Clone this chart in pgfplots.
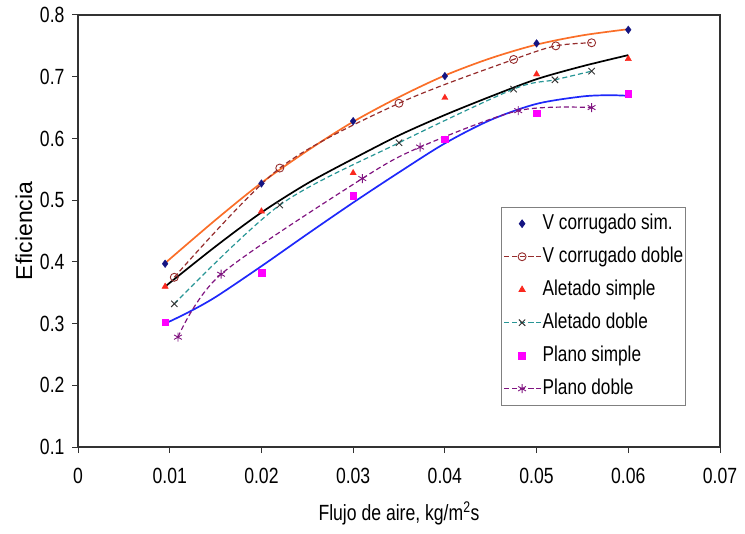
\documentclass[border=0pt]{standalone}
\usepackage{fontspec}
\setmainfont{Liberation Sans}[FakeStretch=0.8]
\newfontfamily\ylabfont{Liberation Sans}
\usepackage{pgfplots}
\pgfplotsset{compat=1.18}

\definecolor{vsim}{RGB}{20,20,130}
\definecolor{vdob}{RGB}{150,45,45}
\definecolor{asim}{RGB}{250,40,30}
\definecolor{adobl}{RGB}{40,150,150}
\definecolor{adobm}{RGB}{50,50,50}
\definecolor{psim}{RGB}{255,0,255}
\definecolor{pdob}{RGB}{128,20,128}
\definecolor{torange}{RGB}{250,110,40}
\definecolor{tblue}{RGB}{30,40,250}
\definecolor{axgray}{RGB}{50,50,50}

\pgfplotsset{
  markleg/.style={legend image code/.code={\draw[##1] plot coordinates {(18pt,0pt)};}},
  lineleg/.style={legend image code/.code={\draw[mark repeat=2,mark phase=2,##1] plot coordinates {(0pt,0pt) (18pt,0pt) (36pt,0pt)};}},
  dashline/.style={line width=1.2pt, dash pattern=on 5pt off 3pt, smooth, tension=0.5},
}

\begin{document}
\begin{tikzpicture}
\begin{axis}[
  name=ax, at={(0,0)}, anchor=south west,
  scale only axis, width=642pt, height=432pt,
  xmin=0, xmax=0.07, ymin=0.1, ymax=0.8,
  scaled x ticks=false, scaled y ticks=false,
  xtick={0,0.01,0.02,0.03,0.04,0.05,0.06,0.07},
  xticklabels={0,0.01,0.02,0.03,0.04,0.05,0.06,0.07},
  ytick={0.1,0.2,0.3,0.4,0.5,0.6,0.7,0.8},
  yticklabels={0.1,0.2,0.3,0.4,0.5,0.6,0.7,0.8},
  /pgf/number format/assume math mode=true,
  tick pos=left, tick align=outside, major tick length=6pt,
  tick style={line width=1pt, color=axgray},
  axis line style={line width=1.3pt, color=axgray},
  font=\fontsize{22}{26}\selectfont,
  xticklabel style={anchor=base, yshift=-30pt},
  yticklabel style={anchor=east, xshift=-4pt},
  xlabel={Flujo de aire, kg/m\textsuperscript{2}s},
  ylabel={Eficiencia},
  xlabel style={at={(rel axis cs:0.5,0)}, anchor=base, yshift=-73pt},
  ylabel style={at={(rel axis cs:0,0.5)}, anchor=center, yshift=54pt,
    font=\ylabfont\fontsize{23}{26}\selectfont},
  legend cell align=left,
  legend style={at={(0.659,0.556)}, anchor=north west, draw=gray, line width=0.8pt,
    fill=white, font=\fontsize{21.5}{25}\selectfont, inner xsep=2pt, inner ysep=6pt,
    row sep=12pt, column sep=2pt,
    nodes={inner sep=0pt, text height=16pt, text depth=5pt}},
  clip=false,
]
% fitted trend curves (not in the legend)
\addplot[color=torange, line width=1.7pt, smooth, forget plot] coordinates {
  (0.0095,0.398) (0.015,0.468) (0.02,0.528) (0.025,0.580) (0.03,0.627)
  (0.035,0.667) (0.04,0.702) (0.045,0.730) (0.05,0.752) (0.055,0.767) (0.06,0.777)};
\addplot[color=black, line width=1.7pt, smooth, forget plot] coordinates {
  (0.0095,0.360) (0.015,0.425) (0.02,0.480) (0.025,0.527) (0.03,0.567)
  (0.035,0.605) (0.04,0.638) (0.045,0.668) (0.05,0.696) (0.055,0.717) (0.06,0.735)};
\addplot[color=tblue, line width=1.7pt, smooth, forget plot] coordinates {
  (0.0095,0.300) (0.012,0.318) (0.015,0.343) (0.02,0.393) (0.025,0.445)
  (0.03,0.496) (0.035,0.545) (0.04,0.592) (0.045,0.630) (0.05,0.656)
  (0.055,0.668) (0.058,0.670) (0.06,0.669)};

% V corrugado simple
\addplot[only marks, mark=diamond*, mark size=3.8pt, color=vsim, markleg] coordinates {
  (0.0095,0.397) (0.02,0.527) (0.03,0.628) (0.04,0.701) (0.05,0.754) (0.06,0.776)};
\addlegendentry{V corrugado sim.}
% V corrugado doble
\addplot[dashline, color=vdob, mark=o, mark size=4pt, mark options={solid, line width=0.9pt}, lineleg] coordinates {
  (0.0105,0.375) (0.022,0.552) (0.035,0.657) (0.0475,0.728) (0.0521,0.750) (0.056,0.755)};
\addlegendentry{V corrugado doble}
% Aletado simple
\addplot[only marks, mark=triangle*, mark size=3.6pt, color=asim, markleg] coordinates {
  (0.0095,0.360) (0.02,0.482) (0.03,0.544) (0.04,0.666) (0.05,0.704) (0.06,0.729)};
\addlegendentry{Aletado simple}
% Aletado doble
\addplot[dashline, color=adobl, mark=x, mark size=4.5pt, mark options={solid, color=adobm, line width=0.9pt}, lineleg] coordinates {
  (0.0105,0.332) (0.022,0.492) (0.035,0.593) (0.0475,0.680) (0.052,0.695) (0.056,0.709)};
\addlegendentry{Aletado doble}
% Plano simple
\addplot[only marks, mark=square*, mark size=3.3pt, color=psim, markleg] coordinates {
  (0.0095,0.302) (0.02,0.382) (0.03,0.507) (0.04,0.599) (0.05,0.641) (0.06,0.672)};
\addlegendentry{Plano simple}
% Plano doble
\addplot[dashline, color=pdob, mark=asterisk, mark size=4.5pt, mark options={solid, line width=0.9pt}, lineleg] coordinates {
  (0.0109,0.278) (0.0156,0.380) (0.031,0.535) (0.0373,0.586) (0.048,0.645) (0.056,0.650)};
\addlegendentry{Plano doble}
\end{axis}
\pgfresetboundingbox
\path[use as bounding box] ([xshift=-78pt,yshift=-86pt]ax.south west) rectangle ([xshift=25pt,yshift=15pt]ax.north east);
\end{tikzpicture}
\end{document}
